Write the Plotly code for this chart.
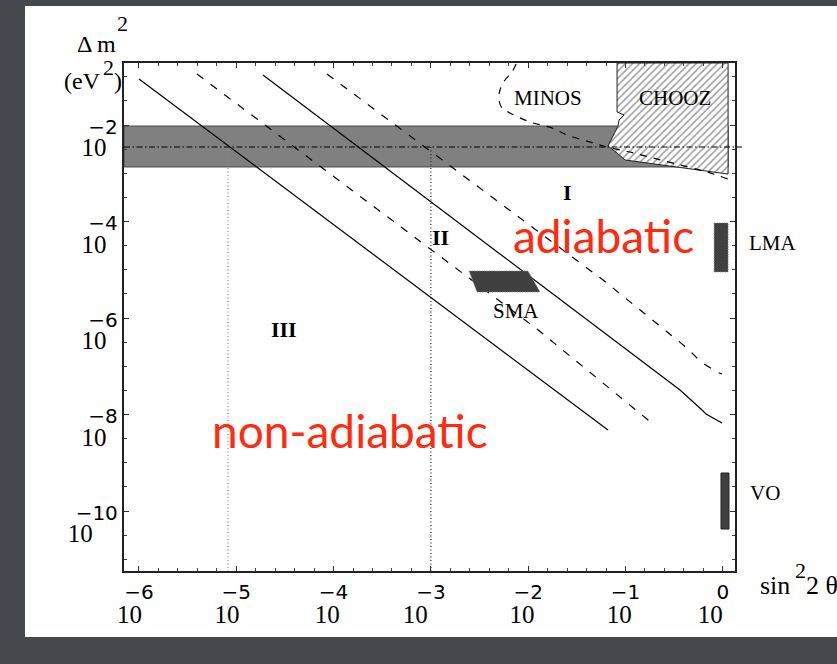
import plotly.graph_objects as go

# ---------------- data (log10 units) ----------------
X_RANGE_LOG = [-6.154, 0.125]      # log10 sin^2 2θ
Y_RANGE_LOG = [-11.243, -0.715]    # log10 Δm^2 / eV^2

X_TICK_EXP = [-6, -5, -4, -3, -2, -1, 0]
Y_TICK_EXP = [-2, -4, -6, -8, -10]
NB = "\u00a0"
TH = "\u2009"
X_TICK_PAD = [NB * 3, NB * 3, NB * 2, NB * 5, NB * 2, NB * 2, NB * 4]   # shift of the "10" under each exponent
Y_TICK_PAD = [NB + TH, NB + TH, NB + TH, NB + TH, NB * 4]

# adiabaticity borders
A_LX = [-6.000, -1.180]
A_LY = [-1.047, -8.321]
B_LX = [-5.404, -1.910, -0.717]
B_LY = [-0.943, -6.228, -8.197]
C_LX = [-4.726, -0.440, -0.214, -0.173, -0.008]
C_LY = [-0.964, -7.492, -7.907, -7.990, -8.176]
D_LX = [-4.068, -1.231, -0.368, -0.224, -0.060, -0.008]
D_LY = [-0.943, -5.212, -6.622, -6.912, -7.119, -7.161]

# MINOS sensitivity
MINOS_LX = [-2.125, -2.167, -2.238, -2.290, -2.300, -2.269, -2.187, -1.982, -1.755,
            -1.601, -1.365, -1.190, -0.954, -0.717, -0.440, -0.162, 0.054]
MINOS_LY = [-0.736, -0.902, -1.067, -1.275, -1.482, -1.648, -1.751, -1.938, -2.062,
            -2.207, -2.352, -2.456, -2.560, -2.684, -2.829, -2.974, -3.119]

# CHOOZ excluded region
CHOOZ_LX = [-1.087, -1.087, -1.015, -1.067, -1.077, -1.149, -1.180, -1.087, -1.005, 0.054, 0.054, -1.087]
CHOOZ_LY = [-0.715, -1.731, -1.793, -1.896, -2.021, -2.311, -2.435, -2.580, -2.725, -3.016, -0.715, -0.715]

# atmospheric band and best value
BAND_LX = [-6.154, 0.054]
BAND_LY = [-2.021, -2.870]
ATM_LY = -2.456
DOTTED_LX = [-5.085, -3.0]

# solar solutions
SMA_LX = [-2.608, -2.002, -1.879, -2.526]
SMA_LY = [-5.026, -5.026, -5.461, -5.461]
LMA_LX = [-0.090, 0.054]
LMA_LY = [-4.031, -5.047]
VO_LX = [-0.019, 0.063]
VO_LY = [-9.212, -10.373]

# text labels (log10 x, log10 y)
REGION_LABELS = [("I", -1.601, -3.409), ("II", -2.906, -4.321), ("III", -4.510, -6.228)]
NAME_LABELS = [("MINOS", -1.796, -1.440), ("CHOOZ", -0.491, -1.440), ("SMA", -2.125, -5.855)]
SIDE_LABELS = [("LMA", 0.516, -4.446), ("VO", 0.434, -9.627)]   # outside the frame
HAND_LABELS = [("adiabatic", -1.231, -4.280), ("non-adiabatic", -3.831, -8.321)]

# ---------------- figure ----------------
W, H = 837, 664
PL, PR, PT, PB = 124, 735, 63, 571


def px2paper(px, py):
    return (px - PL) / (PR - PL), (PB - py) / (PB - PT)


def log2paper(lx, ly):
    return ((lx - X_RANGE_LOG[0]) / (X_RANGE_LOG[1] - X_RANGE_LOG[0]),
            (ly - Y_RANGE_LOG[0]) / (Y_RANGE_LOG[1] - Y_RANGE_LOG[0]))


def p10(v):
    return [10 ** a for a in v]


SERIF = "Liberation Serif"

fig = go.Figure()


def box(lx, ly):
    return [lx[0], lx[1], lx[1], lx[0], lx[0]], [ly[0], ly[0], ly[1], ly[1], ly[0]]


# band
bx, by = box(BAND_LX, BAND_LY)
fig.add_trace(go.Scatter(x=p10(bx), y=p10(by), mode="lines", fill="toself",
                         fillcolor="#808080", line=dict(color="#4a4a4a", width=1)))

# dotted verticals
for lx, col in zip(DOTTED_LX, ["#8a8a8a", "#222222"]):
    fig.add_trace(go.Scatter(x=p10([lx, lx]), y=p10([ATM_LY, Y_RANGE_LOG[0] - 0.1]), mode="lines",
                             line=dict(color=col, width=1.2, dash="1px,2.5px")))

# CHOOZ hatched
fig.add_trace(go.Scatter(x=p10(CHOOZ_LX), y=p10(CHOOZ_LY), mode="lines", fill="toself",
                         fillcolor="white",
                         fillpattern=dict(shape="/", size=5, solidity=0.3, fgcolor="#3a3a3a",
                                          bgcolor="white"),
                         line=dict(color="#222222", width=1)))

LINE_DASH = "8px,9px"
for lx, ly, dash in [(A_LX, A_LY, "solid"), (B_LX, B_LY, LINE_DASH),
                     (C_LX, C_LY, "solid"), (D_LX, D_LY, LINE_DASH)]:
    fig.add_trace(go.Scatter(x=p10(lx), y=p10(ly), mode="lines",
                             line=dict(color="black", width=1.2, dash=dash)))

fig.add_trace(go.Scatter(x=p10(MINOS_LX), y=p10(MINOS_LY), mode="lines",
                         line=dict(color="black", width=1.2, dash="7px,7px", shape="spline")))

# solar regions
sx = SMA_LX + [SMA_LX[0]]
sy = SMA_LY + [SMA_LY[0]]
fig.add_trace(go.Scatter(x=p10(sx), y=p10(sy), mode="lines", fill="toself", fillcolor="#404040",
                         line=dict(color="#888888", width=1, dash="1px,1.5px")))
lx_, ly_ = box(LMA_LX, LMA_LY)
fig.add_trace(go.Scatter(x=p10(lx_), y=p10(ly_), mode="lines", fill="toself", fillcolor="#404040",
                         line=dict(color="#888888", width=1, dash="1px,1.5px")))
vx, vy = box(VO_LX, VO_LY)
fig.add_trace(go.Scatter(x=p10(vx), y=p10(vy), mode="lines", fill="toself", fillcolor="#404040",
                         line=dict(color="#222222", width=1)))

# white slide panel
x0, y0 = px2paper(25, 637)
x1, y1 = px2paper(837, 6)
shapes = [dict(type="rect", xref="paper", yref="paper", x0=x0, x1=x1, y0=y0, y1=y1,
               fillcolor="white", line=dict(width=0), layer="below")]
# atmospheric best-fit dash-dot line (extends slightly past the frame)
_, atm_p = log2paper(0, ATM_LY)
xe, _ = px2paper(742, 0)
shapes.append(dict(type="line", xref="paper", yref="paper", x0=0, x1=xe, y0=atm_p, y1=atm_p,
                   line=dict(color="black", width=1.1, dash="6px,2.5px,1.5px,2.5px"), layer="above"))

annotations = []
for t, x, y in REGION_LABELS:
    annotations.append(dict(x=x, y=y, xref="x", yref="y", text="<b>%s</b>" % t, showarrow=False,
                            font=dict(family=SERIF, size=22, color="black")))
for t, x, y in NAME_LABELS:
    annotations.append(dict(x=x, y=y, xref="x", yref="y", text=t, showarrow=False,
                            font=dict(family=SERIF, size=21, color="black")))
for t, x, y in SIDE_LABELS:
    xp, yp = log2paper(x, y)
    annotations.append(dict(x=xp, y=yp, xref="paper", yref="paper", text=t, showarrow=False,
                            xanchor="center", yanchor="middle",
                            font=dict(family=SERIF, size=21, color="black")))
for t, x, y in HAND_LABELS:
    annotations.append(dict(x=x, y=y, xref="x", yref="y", text=t, showarrow=False,
                            font=dict(family="Lato", size=46, color="#ff2a10")))


def ann_px(text, px, py, size, xanchor="center", family=SERIF):
    xp, yp = px2paper(px, py)
    annotations.append(dict(x=xp, y=yp, xref="paper", yref="paper", text=text, showarrow=False,
                            xanchor=xanchor, yanchor="middle",
                            font=dict(family=family, size=size, color="black")))


# axis titles
ann_px("Δ m", 96, 44, 24)
ann_px("2", 122, 24, 22)
ann_px("(eV", 82, 81, 24)
ann_px("2", 108, 67, 22)
ann_px(")", 118, 81, 24)
ann_px("sin", 775, 585, 26)
ann_px("2", 801, 570, 22)
ann_px("2 θ", 822, 585, 26)

SUP = '<span style="font-family:DejaVu Sans;font-size:20px">{}</span>'
BASE = '<span style="font-family:Liberation Serif;font-size:25px">10{}</span>'


def exp_txt(e):
    return ("−%d" % -e) if e < 0 else "%d" % e


x_ticktext = [SUP.format(exp_txt(e)) + "<br>" + BASE.format(k) for e, k in zip(X_TICK_EXP, X_TICK_PAD)]
y_ticktext = [SUP.format(exp_txt(e)) + "<br>" + BASE.format(k) for e, k in zip(Y_TICK_EXP, Y_TICK_PAD)]

x_minor = [10 ** (-6.2 + 0.2 * i) for i in range(33)]
y_minor = [10 ** (-11.0 + 0.5 * i) for i in range(21)]

fig.update_layout(
    width=W, height=H, autosize=False,
    margin=dict(l=PL, r=W - PR, t=PT, b=H - PB, pad=0),
    paper_bgcolor="#45484d", plot_bgcolor="white",
    showlegend=False, shapes=shapes, annotations=annotations,
    xaxis=dict(type="log", range=X_RANGE_LOG, tickvals=p10(X_TICK_EXP), ticktext=x_ticktext,
               ticks="inside", ticklen=5, tickwidth=1, tickcolor="#333", showgrid=False,
               zeroline=False, showline=True, linecolor="#222", linewidth=1.5, mirror="ticks",
               tickfont=dict(family=SERIF, size=18, color="black"), ticklabelstandoff=5,
               minor=dict(tickvals=x_minor, ticks="inside", ticklen=3, tickcolor="#444", showgrid=False)),
    yaxis=dict(type="log", range=Y_RANGE_LOG, tickvals=p10(Y_TICK_EXP), ticktext=y_ticktext,
               ticks="inside", ticklen=5, tickwidth=1, tickcolor="#333", showgrid=False,
               zeroline=False, showline=True, linecolor="#222", linewidth=1.5, mirror="ticks",
               tickfont=dict(family=SERIF, size=17, color="black"), ticklabelstandoff=1,
               ticklabelshift=14,
               minor=dict(tickvals=y_minor, ticks="inside", ticklen=3, tickcolor="#444", showgrid=False)),
)

fig.write_html("out.html")
